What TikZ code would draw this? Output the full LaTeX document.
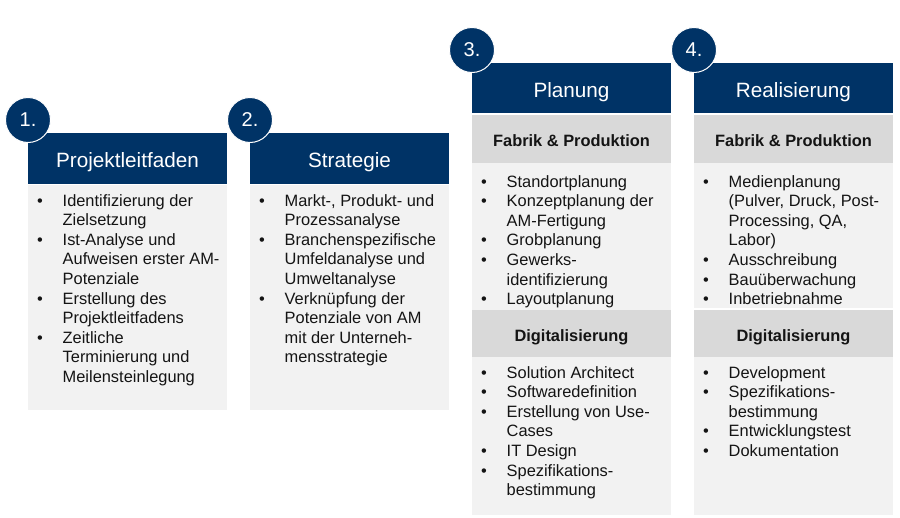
\documentclass[tikz,border=0pt]{standalone}
\usepackage{fontspec}
\setmainfont{Liberation Sans}
\definecolor{navy}{HTML}{003366}
\definecolor{subgrey}{HTML}{D9D9D9}
\definecolor{bodygrey}{HTML}{F2F2F2}
\definecolor{txt}{HTML}{141414}
\tikzset{
  hdrbox/.style={fill=navy},
  subbox/.style={fill=subgrey},
  bodybox/.style={fill=bodygrey},
  itemtext/.style={anchor=base west, inner sep=0pt, text=txt, font=\fontsize{16.4}{19.6}\selectfont},
  bullettext/.style={anchor=base, inner sep=0pt, text=txt, font=\fontsize{16.4}{19.6}\selectfont},
  headtext/.style={anchor=base, inner sep=0pt, text=white, font=\fontsize{20.7}{24}\selectfont},
  subtext/.style={anchor=base, inner sep=0pt, text=txt, font=\bfseries\fontsize{16.4}{19.6}\selectfont},
  numcircle/.style={circle, fill=navy, draw=white, line width=1pt, minimum size=45pt, inner sep=0pt, text=white, font=\fontsize{20}{24}\selectfont}
}
% #1 = left x of column, #2 = first baseline, #3 = name prefix, #4 = list
\newcommand\itemlines[4]{%
  \foreach \bb/\tx [count=\ii from 0] in {#4}{%
    \ifnum\bb=1
      \node[bullettext] (#3b\ii) at ({#1+12},{#2+19.6*\ii}) {•};
    \fi
    \node[itemtext] (#3t\ii) at ({#1+34.5},{#2+19.6*\ii}) {\tx};
  }%
}
\begin{document}
\begin{tikzpicture}[x=1pt,y=-1pt]
\useasboundingbox[fill=white] (0,0) rectangle (900,517);

% ---- Column 1 ----
\fill[bodybox] (28,185) rectangle (227,410);
\fill[hdrbox] (28,133) rectangle (227,184);
\node[headtext] (h1) at (127.5,167.4) {Projektleitfaden};
\node[numcircle] (n1) at (28,120) {1.};
\itemlines{28}{206}{a}{1/Identifizierung der,0/Zielsetzung,1/Ist-Analyse und,0/Aufweisen erster AM-,0/Potenziale,1/Erstellung des,0/Projektleitfadens,1/Zeitliche,0/Terminierung und,0/Meilensteinlegung}

% ---- Column 2 ----
\fill[bodybox] (250,185) rectangle (449,410);
\fill[hdrbox] (250,133) rectangle (449,184);
\node[headtext] (h2) at (349.5,167.4) {Strategie};
\node[numcircle] (n2) at (250,120) {2.};
\itemlines{250}{206}{b}{1/{Markt-, Produkt- und},0/Prozessanalyse,1/Branchenspezifische,0/Umfeldanalyse und,0/Umweltanalyse,1/Verknüpfung der,0/Potenziale von AM,0/mit der Unterneh-,0/mensstrategie}

% ---- Column 3 ----
\fill[bodybox] (472,163) rectangle (671,310);
\fill[bodybox] (472,357) rectangle (671,515);
\fill[subbox] (472,115) rectangle (671,163);
\fill[subbox] (472,310) rectangle (671,357);
\fill[hdrbox] (472,63) rectangle (671,113);
\node[headtext] (h3) at (571.5,97.4) {Planung};
\node[subtext] (s3a) at (571.5,146.5) {Fabrik \& Produktion};
\node[subtext] (s3b) at (571.5,341.5) {Digitalisierung};
\node[numcircle] (n3) at (472,50) {3.};
\itemlines{472}{187}{c}{1/Standortplanung,1/Konzeptplanung der,0/AM-Fertigung,1/Grobplanung,1/Gewerks-,0/identifizierung,1/Layoutplanung}
\itemlines{472}{378}{d}{1/Solution Architect,1/Softwaredefinition,1/Erstellung von Use-,0/Cases,1/IT Design,1/Spezifikations-,0/bestimmung}

% ---- Column 4 ----
\fill[bodybox] (694,163) rectangle (893,308);
\fill[bodybox] (694,357) rectangle (893,515);
\fill[subbox] (694,115) rectangle (893,163);
\fill[subbox] (694,310) rectangle (893,357);
\fill[hdrbox] (694,63) rectangle (893,113);
\node[headtext] (h4) at (793.5,97.4) {Realisierung};
\node[subtext] (s4a) at (793.5,146.5) {Fabrik \& Produktion};
\node[subtext] (s4b) at (793.5,341.5) {Digitalisierung};
\node[numcircle] (n4) at (694,50) {4.};
\itemlines{694}{187}{e}{1/Medienplanung,0/{(Pulver, Druck, Post-},0/{Processing, QA,},0/Labor),1/Ausschreibung,1/Bauüberwachung,1/Inbetriebnahme}
\itemlines{694}{378}{f}{1/Development,1/Spezifikations-,0/bestimmung,1/Entwicklungstest,1/Dokumentation}
\end{tikzpicture}
\end{document}
